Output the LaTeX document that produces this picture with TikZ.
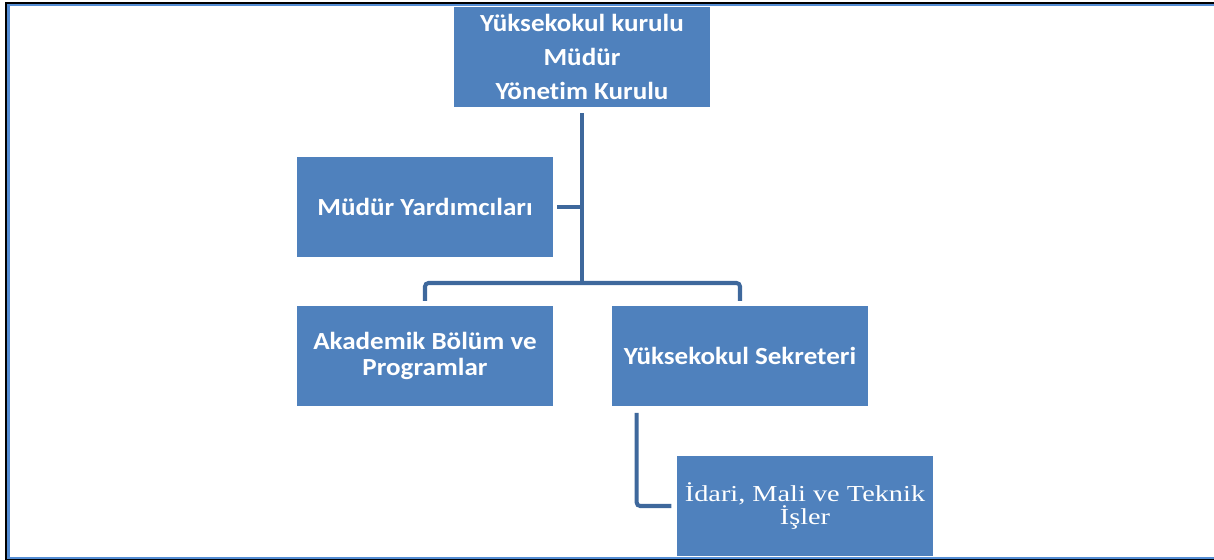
\documentclass[tikz,border=0pt]{standalone}
\usepackage{fontspec}
\setmainfont{Carlito}
\newfontfamily\unitfont[FakeStretch=1.1,Ligatures=NoCommon]{Carlito}
\newfontfamily\timesfont[FakeStretch=1.24]{Liberation Serif}
\definecolor{boxblue}{RGB}{79,129,189}
\definecolor{linkblue}{RGB}{62,104,156}
\definecolor{framblue}{RGB}{84,141,212}
\begin{document}
\begin{tikzpicture}[x=0.02cm,y=-0.02cm,
				unit/.style={fill=boxblue,text=white,align=center,inner sep=0pt,
					minimum width=5.12cm,minimum height=2.02cm,font=\unitfont\bfseries\fontsize{14}{14.7}\selectfont},
				conn/.style={draw=linkblue,line width=2.3pt}]
\useasboundingbox (0,0) rectangle (1214,560);
% frame
\draw[line width=1.4pt] (1214,3) -- (6,3) -- (6,559.3) -- (1214,559.3);
\draw[framblue,line width=1.3pt] (1214,5) -- (8.6,5) -- (8.6,557.7) -- (1214,557.7);
% units
\node[unit,font=\unitfont\bfseries\fontsize{14}{19.3}\selectfont] (kurul) at (582,57) {Yüksekokul kurulu\\Müdür\\Yönetim Kurulu};
\node[unit] (yard) at (425,207) {Müdür Yardımcıları};
\node[unit] (akad) at (425,356) {Akademik Bölüm ve\\Programlar};
\node[unit] (sekr) at (740,356) {Yüksekokul Sekreteri};
\node[unit,minimum height=2cm,font=\timesfont\fontsize{13}{13.6}\selectfont] (idari) at (805,506) {İdari, Mali ve Teknik\\İşler};
\coordinate (bus) at (582,283);
% links
\draw[conn] ([yshift=-3pt]kurul.south) -- (bus);
\draw[conn] ([xshift=2.3pt]yard.east) -- (yard.east -| bus);
\draw[conn,rounded corners=2pt] ([yshift=2.5pt]akad.north) |- (bus) -| ([yshift=2.5pt]sekr.north);
\draw[conn,rounded corners=2pt] ([shift={(0.5cm,-3.5pt)}]sekr.south west) |- ([xshift=-3pt]idari.west);
\end{tikzpicture}
\end{document}
